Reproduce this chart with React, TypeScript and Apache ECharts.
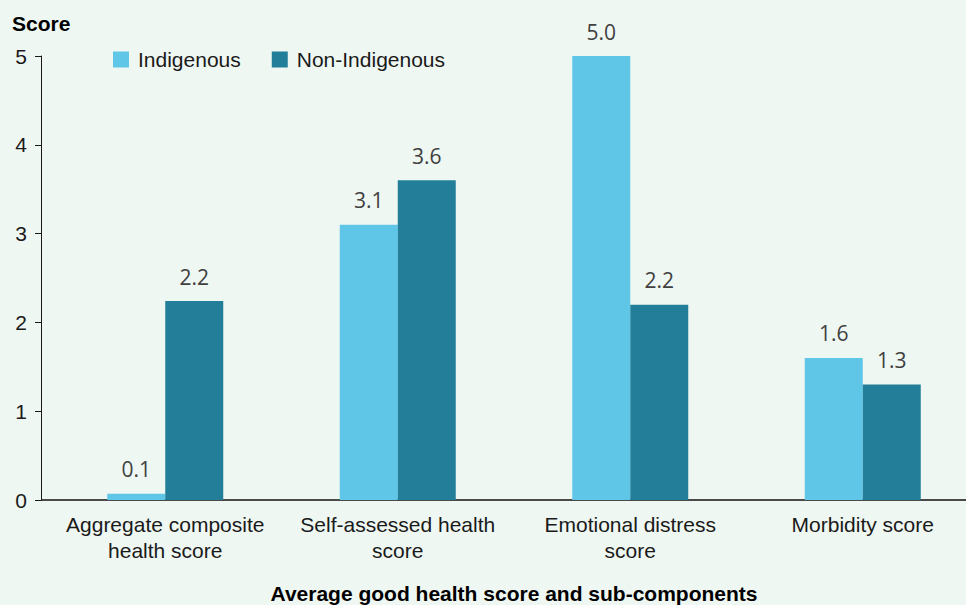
import React, { useEffect, useRef } from "react";
import * as echarts from "echarts";

const categories = [
  "Aggregate composite\nhealth score",
  "Self-assessed health\nscore",
  "Emotional distress\nscore",
  "Morbidity score",
];
const indigenous = [0.07, 3.1, 5.0, 1.6];
const nonIndigenous = [2.24, 3.6, 2.2, 1.3];
const seriesNames = ["Indigenous", "Non-Indigenous"];
const yTicks = { min: 0, max: 5, interval: 1 };

const BG = "#eff7f2";
const C1 = "#5fc6e8";
const C2 = "#237f99";
const SANS = "'Liberation Sans', Arial, sans-serif";

export default function App() {
  const ref = useRef<HTMLDivElement>(null);
  useEffect(() => {
    if (!ref.current) return;
    const chart = echarts.init(ref.current, null, { renderer: "svg" });
    const label = {
      show: true,
      position: "top" as const,
      distance: 14,
      fontFamily: "'Open Sans', sans-serif",
      fontSize: 21,
      color: "#404040",
      formatter: (p: any) => Number(p.value).toFixed(1),
    };
    chart.setOption({
      animation: false,
      backgroundColor: BG,
      grid: {
        left: 49,
        width: 930,
        top: 56,
        height: 444,
        containLabel: false,
        outerBoundsMode: "none",
      },
      legend: {
        left: 108,
        top: 44,
        itemWidth: 16,
        itemHeight: 16,
        itemGap: 31,
        icon: "rect",
        textStyle: { fontFamily: SANS, fontSize: 21, color: "#1a1a1a", padding: [0, 0, 0, 4] },
        data: seriesNames,
      },
      graphic: [
        {
          type: "text",
          left: 12,
          top: 13,
          style: { text: "Score", font: `bold 21px ${SANS}`, fill: "#000" },
        },
        {
          type: "line",
          shape: { x1: 41, y1: 500, x2: 50, y2: 500 },
          style: { stroke: "#4a4a4a", lineWidth: 2 },
        },
      ],
      xAxis: {
        type: "category",
        data: categories,
        axisLine: { lineStyle: { color: "#4a4a4a", width: 2 } },
        axisTick: { show: false },
        axisLabel: {
          fontFamily: SANS,
          fontSize: 21,
          color: "#1a1a1a",
          lineHeight: 26,
          margin: 11,
          interval: 0,
        },
        name: "Average good health score and sub-components",
        nameLocation: "middle",
        nameGap: 83,
        nameTextStyle: { fontFamily: SANS, fontSize: 21, fontWeight: "bold", color: "#000" },
      },
      yAxis: {
        type: "value",
        min: yTicks.min,
        max: yTicks.max,
        interval: yTicks.interval,
        offset: 8,
        axisLine: { show: true, lineStyle: { color: "#1a1a1a", width: 1 } },
        axisTick: { show: true, length: 6, lineStyle: { color: "#1a1a1a" } },
        splitLine: { show: false },
        axisLabel: { fontFamily: SANS, fontSize: 21, color: "#1a1a1a", margin: 14 },
      },
      series: [
        {
          name: seriesNames[0],
          type: "bar",
          data: indigenous,
          barWidth: 58,
          barGap: "0%",
          itemStyle: { color: C1 },
          label,
        },
        {
          name: seriesNames[1],
          type: "bar",
          data: nonIndigenous,
          barWidth: 58,
          barGap: "0%",
          itemStyle: { color: C2 },
          label,
        },
      ],
    });
    return () => chart.dispose();
  }, []);
  return (
    <div
      ref={ref}
      style={{ position: "fixed", left: 0, top: 0, width: 966, height: 605 }}
    />
  );
}
